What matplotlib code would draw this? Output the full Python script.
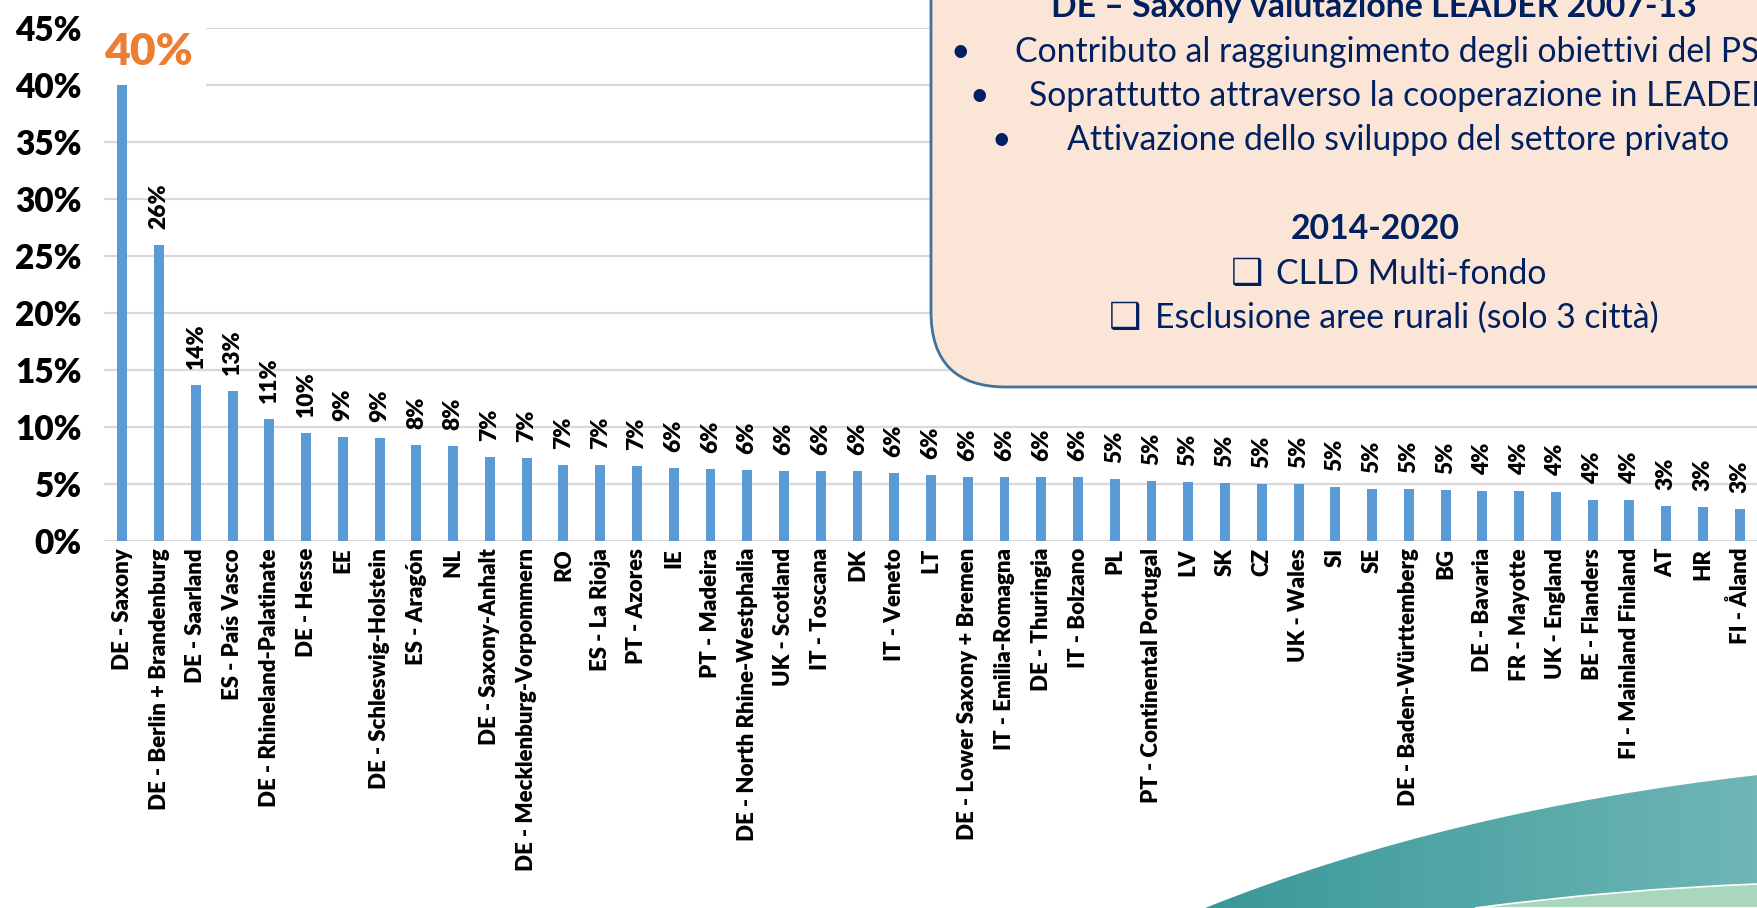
import matplotlib
matplotlib.use("Agg")
import matplotlib.pyplot as plt
import numpy as np
from matplotlib.patches import FancyBboxPatch, Rectangle, PathPatch
from matplotlib.path import Path
from matplotlib.colors import LinearSegmentedColormap

# categorie e valori (quota %)
regioni = ["DE - Saxony", "DE - Berlin + Brandenburg", "DE - Saarland", "ES - País Vasco",
           "DE - Rhineland-Palatinate", "DE - Hesse", "EE", "DE - Schleswig-Holstein",
           "ES - Aragón", "NL", "DE - Saxony-Anhalt", "DE - Mecklenburg-Vorpommern", "RO",
           "ES - La Rioja", "PT - Azores", "IE", "PT - Madeira", "DE - North Rhine-Westphalia",
           "UK - Scotland", "IT - Toscana", "DK", "IT - Veneto", "LT",
           "DE - Lower Saxony + Bremen", "IT - Emilia-Romagna", "DE - Thuringia",
           "IT - Bolzano", "PL", "PT - Continental Portugal", "LV", "SK", "CZ", "UK - Wales",
           "SI", "SE", "DE - Baden-Württemberg", "BG", "DE - Bavaria", "FR - Mayotte",
           "UK - England", "BE - Flanders", "FI - Mainland Finland", "AT", "HR", "FI - Åland"]
valori = [40.0, 26.0, 13.7, 13.2, 10.7, 9.5, 9.1, 9.0, 8.4, 8.3, 7.4, 7.3, 6.7, 6.7, 6.6,
          6.4, 6.3, 6.2, 6.1, 6.1, 6.1, 6.0, 5.8, 5.6, 5.6, 5.6, 5.6, 5.4, 5.3, 5.2, 5.1,
          5.0, 5.0, 4.7, 4.6, 4.6, 4.5, 4.4, 4.4, 4.3, 3.6, 3.6, 3.1, 3.0, 2.8]
yticks = [0, 5, 10, 15, 20, 25, 30, 35, 40, 45]
ytick_labels = ["%d%%" % t for t in yticks]

# testo del riquadro
titolo = "DE – Saxony valutazione LEADER 2007-13"
punti = ["Contributo al raggiungimento degli obiettivi del PSR",
         "Soprattutto attraverso la cooperazione in LEADER",
         "Attivazione dello sviluppo del settore privato"]
periodo = "2014-2020"
caselle = ["CLLD Multi-fondo", "Esclusione aree rurali (solo 3 città)"]

BLU = "#5B9BD5"
NAVY = "#002060"
CAL = ["Lato", "DejaVu Sans"]

W, H = 1758, 908
fig = plt.figure(figsize=(W / 100, H / 100), dpi=100)
ax = fig.add_axes([104 / W, (H - 541) / H, 1 - 104 / W, (541 - 28) / H])

x = np.arange(len(regioni))
ax.bar(x, valori, width=0.27, color=BLU, zorder=2)
ax.set_xlim(-0.5, len(regioni) - 0.5)
ax.set_ylim(0, 45)
ax.set_yticks(yticks)
ax.set_yticklabels(ytick_labels, fontsize=24, fontweight="heavy", family=CAL)
ax.set_xticks(x)
ax.set_xticklabels(regioni, rotation=90, fontsize=16, fontweight="heavy", family=CAL)
ax.tick_params(axis="both", length=0)
ax.tick_params(axis="y", pad=16)
ax.tick_params(axis="x", pad=5)
ax.set_axisbelow(True)
ax.grid(axis="y", color="#D9D9D9", linewidth=1.6, zorder=0.5)
for s in ax.spines.values():
    s.set_visible(False)

# etichette dei valori
for i, v in enumerate(valori):
    if i == 0:
        continue
    ax.annotate("%d%%" % int(v + 0.5), (i, v), xytext=(0, 11.5), textcoords="offset points",
                rotation=90, ha="center", va="bottom", fontsize=16.5, fontweight="heavy",
                family=CAL)

# 40% in arancione, con sfondo bianco sopra la griglia
ax.add_patch(Rectangle((-0.5, 39.0), 2.77, 7.0, facecolor="white", edgecolor="none",
                       zorder=1.5, clip_on=False))
ax.annotate("%d%%" % int(valori[0] + 0.5), (0, valori[0]), xytext=(19, 24),
            textcoords="offset points", ha="center", va="center", fontsize=32,
            fontweight="heavy", color="#ED7D31", family=CAL, zorder=3)

# livello in pixel per riquadro e forma decorativa
ov = fig.add_axes([0, 0, 1, 1])
ov.set_zorder(5)
ov.patch.set_alpha(0)
ov.axis("off")

box = FancyBboxPatch((931, -120), 1000, 507, boxstyle="round,pad=0,rounding_size=75",
                     facecolor="#FBE5D6", edgecolor="#41719C", linewidth=2)
ov.add_patch(box)

FS = 24.3
ov.text(1374, 17, titolo, ha="center", va="baseline", fontsize=FS, fontweight="bold",
        color=NAVY, family=CAL)
bul_x = [960, 979, 1001]
txt_x = [1015, 1029, 1067]
righe_y = [52, 96, 140]
for bx, tx, yy, t in zip(bul_x, txt_x, righe_y, punti):
    ov.text(bx, yy, "•", ha="center", va="center", fontsize=FS, color=NAVY, family=CAL)
    ov.text(tx, yy, t, ha="left", va="center", fontsize=FS, color=NAVY, family=CAL,
            clip_on=True)
ov.text(1375, 229, periodo, ha="center", va="center", fontsize=FS, fontweight="bold",
        color=NAVY, family=CAL)
for cx, tx, yy, t in zip([1247, 1125], [1276, 1155], [274, 318], caselle):
    ov.text(cx, yy, "❑", ha="center", va="center", fontsize=26, color=NAVY,
            family=["DejaVu Sans"])
    ov.text(tx, yy, t, ha="left", va="center", fontsize=FS, color=NAVY, family=CAL)

# forma verde acqua in basso a destra
verts = [(1205, 908), (1450, 810), (1758, 775), (1758, 908), (1205, 908)]
codes = [Path.MOVETO, Path.CURVE3, Path.CURVE3, Path.LINETO, Path.CLOSEPOLY]
onda = PathPatch(Path(verts, codes), facecolor="none", edgecolor="none")
ov.add_patch(onda)
cmap = LinearSegmentedColormap.from_list("teal", ["#3A9898", "#6FB6B6"])
grad = np.linspace(0, 1, 256).reshape(1, -1)
im = ov.imshow(grad, extent=(1205, 1758, 908, 770), cmap=cmap, aspect="auto", zorder=1)
im.set_clip_path(onda)

verts2 = [(1475, 908), (1620, 889), (1758, 884), (1758, 908), (1475, 908)]
ov.add_patch(PathPatch(Path(verts2, codes), facecolor="#A9D6BC", edgecolor="white",
                       linewidth=1.2, zorder=2))

ov.set_xlim(0, W)
ov.set_ylim(H, 0)

fig.savefig("out.png", dpi=100)
